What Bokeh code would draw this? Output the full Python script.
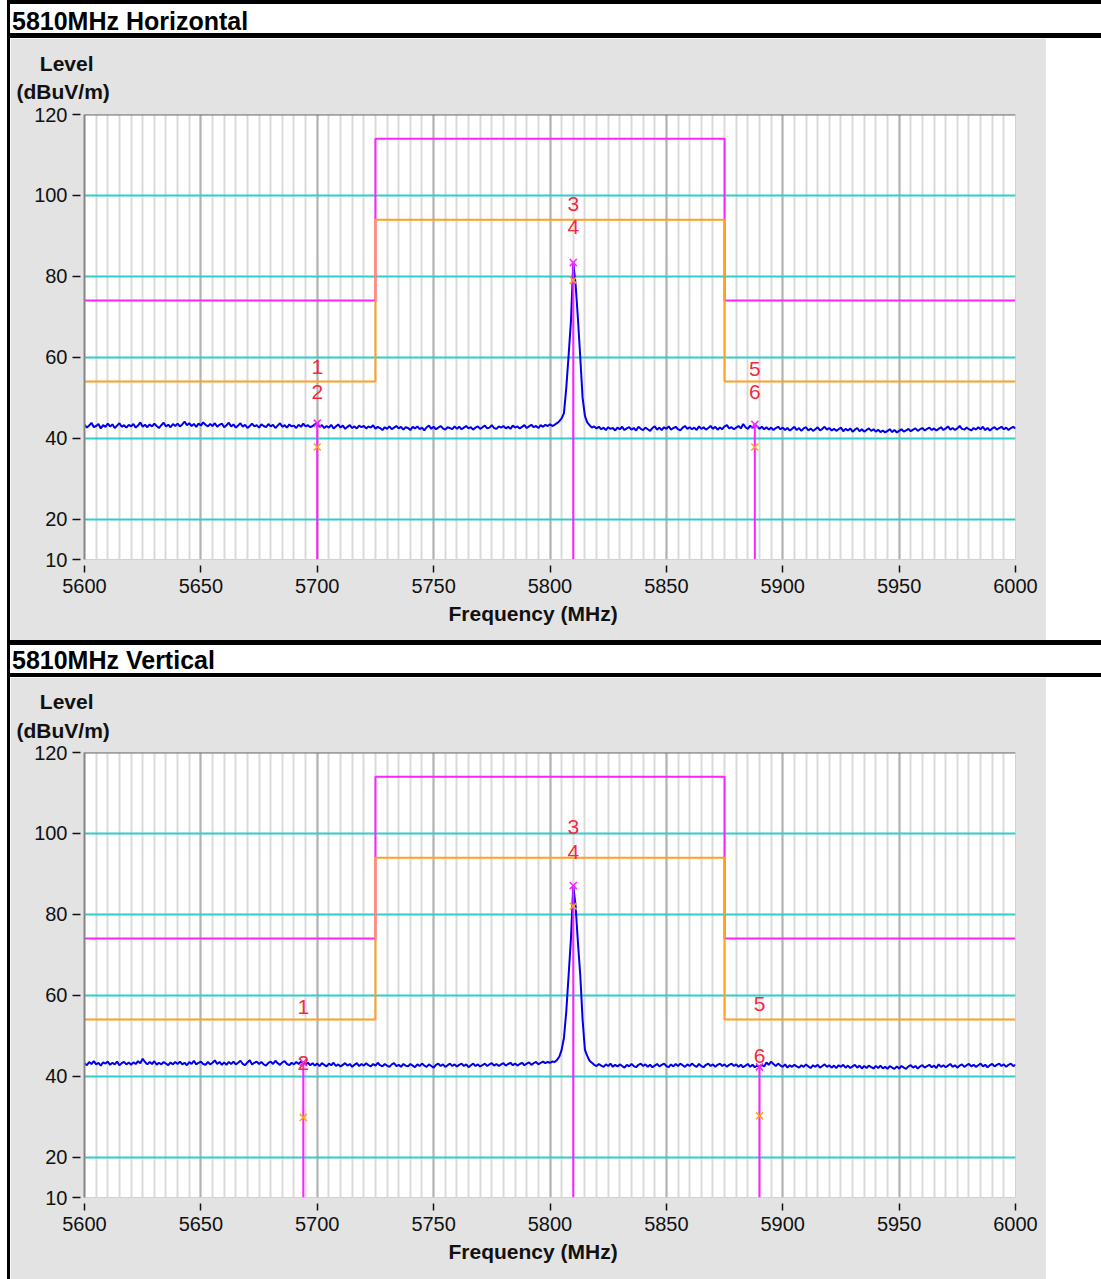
from bokeh.plotting import figure
from bokeh.models import (Range1d, FixedTicker, SingleIntervalTicker, Span, Div, Title)
from bokeh.layouts import row, column
from bokeh.embed import file_html
from bokeh.resources import INLINE
from bokeh.core.properties import value

# ---------------------------------------------------------------- data
FREQ_START = 5600   # MHz, first trace point
FREQ_STEP = 1       # MHz between trace points

H_LEVEL = [
    43.3, 42.6, 43.1, 43.8, 42.7, 43.0, 43.5, 42.4, 43.2, 42.8, 43.6, 42.9, 43.4, 42.5, 43.1, 43.7, 42.8, 43.2, 42.6, 43.3,
    42.9, 43.5, 42.6, 43.1, 43.9, 42.8, 43.3, 42.7, 43.4, 42.9, 43.6, 43.0, 42.5, 43.2, 43.8, 42.9, 43.3, 42.7, 43.5, 43.0,
    43.6, 42.9, 43.4, 44.1, 43.2, 43.7, 43.0, 43.5, 42.8, 43.6, 43.1, 43.9, 43.3, 42.9, 43.5, 43.0, 43.7, 42.8, 43.3, 43.6,
    42.7, 43.2, 43.8, 42.9, 43.4, 42.6, 43.1, 43.7, 42.8, 43.3, 42.5, 43.0, 43.6, 42.9, 43.2, 42.6, 43.4, 43.0, 42.7, 43.5,
    42.9, 43.3, 42.5, 43.1, 43.7, 42.8, 43.2, 42.6, 43.4, 42.9, 43.1, 42.5, 43.3, 42.8, 43.6, 42.9, 43.2, 42.7, 43.0, 43.4,
    43.7, 42.8, 43.2, 42.5, 43.0, 42.6, 43.3, 42.4, 42.9, 43.4, 42.6, 43.1, 42.3, 42.8, 43.2, 42.5, 42.9, 42.4, 43.1, 42.7,
    43.0, 42.4, 42.9, 42.6, 43.2, 42.3, 42.8, 42.5, 42.0, 42.7, 42.3, 42.9, 42.2, 42.6, 43.0, 42.4, 42.8, 42.1, 42.7, 42.5,
    42.0, 42.8, 42.4, 42.9, 42.2, 42.6, 41.9, 42.7, 43.1, 42.3, 42.8, 42.2, 42.6, 43.0, 42.4, 42.1, 42.7, 42.5, 42.2, 42.9,
    42.3, 42.8, 42.2, 42.6, 43.0, 42.4, 42.7, 42.1, 42.6, 42.9, 42.3, 42.7, 43.1, 42.4, 42.6, 43.2, 42.5, 42.3, 42.9, 42.6,
    43.0, 42.4, 42.8, 42.3, 43.1, 42.6, 42.9, 42.4, 42.8, 43.2, 42.5, 42.9, 43.3, 42.7, 43.0, 42.5, 43.2, 42.8, 43.3, 43.0,
    43.4, 43.0, 43.3, 43.7, 44.2, 44.9, 46.2, 52.5, 60.5, 69.0, 83.4, 78.0, 69.5, 60.0, 50.0, 45.5, 43.9, 43.2, 42.6, 42.9,
    42.4, 42.8, 42.2, 42.6, 42.0, 42.7, 42.3, 42.5, 41.9, 42.6, 42.2, 42.8, 42.0, 42.4, 42.7, 42.1, 42.5, 41.9, 42.8, 42.3,
    42.0, 42.6, 42.2, 41.8, 42.5, 42.9, 42.1, 42.6, 42.0, 42.7, 42.3, 42.9, 42.1, 42.5, 42.8, 42.2, 41.9, 42.6, 43.0, 42.3,
    42.7, 42.2, 42.6, 42.0, 42.9, 42.3, 42.7, 42.1, 42.5, 43.0, 42.3, 42.8, 42.1, 42.6, 42.2, 42.9, 43.2, 42.4, 42.7, 42.2,
    42.6, 43.0, 42.4, 43.5, 42.7, 42.3, 43.1, 42.5, 43.4, 42.9, 42.3, 42.8, 42.2, 42.7, 42.1, 42.6, 42.0, 42.5, 42.8, 42.2,
    42.6, 42.0, 42.5, 41.9, 42.3, 42.8, 42.0, 42.5, 41.8, 42.4, 42.7, 41.9, 42.4, 41.8, 42.2, 42.7, 41.9, 42.3, 42.8, 42.1,
    42.5, 41.9, 42.3, 41.8, 42.2, 42.6, 41.7, 42.3, 41.9, 42.4, 41.6, 42.1, 42.5, 41.7, 42.2, 41.6, 42.0, 42.4, 41.8, 42.2,
    41.6, 42.1, 41.5, 41.9, 41.4, 41.8, 42.2, 41.5, 42.0, 41.4, 41.8, 42.2, 41.6, 41.9, 42.3, 41.7, 42.1, 42.4, 41.8, 42.2,
    42.5, 41.9, 42.3, 42.6, 42.0, 42.4, 41.9, 42.3, 42.7, 42.0, 42.4, 42.9, 42.1, 42.5, 42.0, 42.4, 43.0, 42.3, 42.1, 42.6,
    42.2, 41.9, 42.5, 42.1, 42.7, 42.2, 42.8, 42.0, 42.5, 41.9, 42.4, 42.7, 42.1, 42.5, 42.8, 42.2, 42.6, 42.0, 42.5, 42.8,
    42.4,
]

V_LEVEL = [
    43.2, 42.7, 43.5, 43.0, 43.7, 42.9, 43.3, 42.6, 43.4, 43.1, 43.6, 42.8, 43.3, 42.9, 43.6, 42.7, 43.2, 43.5, 42.9, 43.4,
    42.8, 43.4, 43.0, 43.7, 43.2, 44.3, 43.5, 42.9, 43.5, 43.0, 43.7, 42.8, 43.3, 42.9, 43.5, 43.1, 42.7, 43.4, 42.9, 43.5,
    43.0, 43.6, 42.9, 43.3, 42.7, 43.5, 43.0, 43.8, 42.9, 43.3, 43.6, 43.0, 42.8, 43.5, 42.9, 43.3, 43.9, 43.0, 43.5, 42.8,
    43.4, 42.8, 43.5, 43.0, 43.6, 42.9, 43.3, 43.8, 43.0, 42.7, 43.4, 43.9, 42.9, 43.3, 43.6, 43.0, 43.5, 42.9, 42.6, 43.3,
    43.6, 43.0, 43.8, 43.2, 42.8, 43.4, 43.7, 43.0, 42.7, 43.3, 42.9, 43.5, 43.0, 43.6, 43.4, 42.9, 43.3, 42.7, 43.2, 42.6,
    43.1, 42.5, 43.2, 42.8, 42.4, 43.1, 42.7, 43.3, 42.5, 42.9, 42.4, 42.8, 43.2, 42.6, 43.0, 42.3, 42.8, 43.2, 42.5, 43.0,
    42.6, 43.2, 42.7, 42.4, 43.0, 42.6, 43.3, 42.7, 42.4, 43.0, 42.6, 42.3, 42.9, 43.2, 42.5, 42.8, 42.3, 43.0, 42.6, 42.4,
    43.0, 42.6, 42.2, 42.9, 42.5, 43.1, 42.6, 42.3, 42.9, 42.5, 42.1, 42.8, 43.1, 42.5, 42.9, 42.3, 42.7, 43.1, 42.5, 42.9,
    42.4, 42.8, 43.1, 42.5, 42.9, 42.2, 42.7, 43.1, 42.5, 42.9, 42.4, 42.7, 43.1, 42.5, 42.9, 43.2, 42.6, 43.0, 42.5, 42.9,
    43.2, 42.6, 43.0, 43.3, 42.7, 43.1, 42.6, 43.0, 43.3, 42.7, 43.1, 43.4, 42.8, 43.2, 43.5, 42.9, 43.3, 43.6, 43.2, 43.5,
    43.3, 43.6, 43.5, 44.0, 44.8, 46.5, 49.5, 56.0, 65.0, 74.0, 87.1, 82.0, 73.0, 65.0, 54.0, 46.5, 45.0, 43.8, 43.3, 42.8,
    42.5, 43.0, 42.6, 42.3, 42.9, 42.5, 43.1, 42.3, 42.8, 42.4, 42.9, 42.5, 42.1, 42.8, 42.4, 43.0, 42.5, 42.2, 42.8, 43.1,
    42.5, 42.9, 42.3, 42.8, 42.2, 42.6, 43.0, 42.4, 42.8, 43.1, 42.5, 42.2, 42.9, 42.4, 43.0, 42.5, 43.1, 42.7, 42.3, 42.9,
    42.5, 43.1, 42.6, 42.3, 43.0, 42.5, 42.2, 42.8, 43.1, 42.5, 42.9, 42.3, 42.8, 43.1, 42.5, 42.9, 42.3, 42.8, 43.1, 42.5,
    42.9, 42.3, 42.8, 42.2, 42.6, 43.0, 42.3, 42.8, 42.2, 42.6, 42.3, 42.8, 42.4, 43.4, 42.8, 43.6, 43.0, 42.5, 43.1, 42.6,
    42.3, 42.9, 42.1, 42.7, 42.3, 42.8, 42.4, 42.1, 42.7, 42.3, 42.9, 42.4, 42.0, 42.7, 42.3, 42.8, 42.1, 42.5, 42.9, 42.3,
    42.7, 42.1, 42.6, 42.0, 42.7, 42.3, 42.8, 42.1, 42.6, 42.0, 42.4, 42.8, 42.1, 42.6, 41.9, 42.5, 42.0, 42.6, 42.2, 41.9,
    42.5, 42.0, 42.6, 41.9, 42.3, 41.8, 42.5, 42.1, 41.8, 42.4, 41.9, 42.5, 42.1, 41.8, 42.4, 42.7, 42.1, 42.5, 41.9, 42.4,
    42.7, 42.1, 42.5, 42.8, 42.2, 42.6, 42.0, 42.9, 42.3, 42.7, 42.2, 42.6, 43.0, 42.3, 42.7, 42.1, 42.6, 42.9, 42.3, 42.7,
    43.0, 42.4, 42.8, 42.3, 42.7, 43.1, 42.4, 42.8, 42.2, 42.7, 43.0, 42.4, 42.8, 43.1, 42.5, 42.9, 42.3, 42.8, 43.1, 42.5,
    42.8,
]

# limit lines: band edges (MHz) and level of each segment (dBuV/m)
LIMIT_EDGES = [5600, 5725, 5875, 6000]
PEAK_LIMIT = [74, 114, 74]
AVG_LIMIT = [54, 94, 54]

# marker readings, horizontal polarisation
H_MARKER_FREQ = [5700, 5810, 5888]
H_MARKER_PEAK = [43.7, 83.4, 43.4]
H_MARKER_AVG = [37.8, 79.0, 37.8]
H_TAG_PEAK = ["1", "3", "5"]
H_TAG_AVG = ["2", "4", "6"]
H_TAG_PEAK_Y = [57.7, 97.8, 57.2]
H_TAG_AVG_Y = [51.3, 92.1, 51.3]

# marker readings, vertical polarisation
V_MARKER_FREQ = [5694, 5810, 5890]
V_MARKER_PEAK = [43.4, 87.1, 42.3]
V_MARKER_AVG = [29.8, 82.0, 30.2]
V_TAG_PEAK = ["1", "3", "5"]
V_TAG_AVG = ["2", "4", "6"]
V_TAG_PEAK_Y = [57.0, 101.5, 57.8]
V_TAG_AVG_Y = [43.3, 95.5, 44.9]

Y_TICKS = [10, 20, 40, 60, 80, 100, 120]
Y_REF_LINES = [20, 40, 60, 80, 100]

# ---------------------------------------------------------------- style
FONT = "Liberation Sans"
PANEL_GRAY = "#e3e3e3"
CYAN = "#33cccc"
MAGENTA = "#ff22ff"
ORANGE = "#ffa024"
TRACE_BLUE = "#0000ee"
TAG_RED = "#f52a3c"
INK = "#111111"
NBSP = "\u00a0"


def caption(text, **kw):
    return Title(text=text, text_font=FONT, text_font_size="21px",
                 text_font_style="bold", text_color=INK, **kw)


def spectrum_panel(levels, m_freq, m_peak, m_avg, tags_pk, tags_av, tags_pk_y, tags_av_y,
                   top, bottom):
    p = figure(width=1036, height=602, output_backend="svg", toolbar_location=None,
               x_range=Range1d(5600, 6000), y_range=Range1d(10, 120),
               title_location=None,
               min_border_left=74, min_border_right=31,
               min_border_top=top, min_border_bottom=bottom,
               background_fill_color="white", border_fill_color=PANEL_GRAY,
               outline_line_color="#d2d2d2", outline_line_width=1)

    # axes
    p.xaxis.ticker = SingleIntervalTicker(interval=50, num_minor_ticks=10)
    p.yaxis.ticker = FixedTicker(ticks=Y_TICKS)
    for ax in (p.xaxis[0], p.yaxis[0]):
        ax.major_label_text_font = FONT
        ax.major_label_text_font_size = "20px"
        ax.major_label_text_color = INK
        ax.minor_tick_line_color = None
        ax.major_tick_line_color = INK
    p.xaxis.major_tick_in = -6
    p.xaxis.major_tick_out = 13
    p.xaxis.major_tick_line_width = 1.5
    p.xaxis.major_label_standoff = 6
    p.xaxis.axis_line_color = None
    p.yaxis.major_tick_in = -4
    p.yaxis.major_tick_out = 12
    p.yaxis.major_tick_line_width = 1.5
    p.yaxis.major_label_standoff = 5
    p.yaxis.axis_line_color = "#858585"
    p.yaxis.axis_line_width = 2

    # axis captions: unit block above the level axis, frequency caption under the axis
    p.add_layout(caption(NBSP * 4 + "Level\n(dBuV/m)", align="left", offset=-68,
                         standoff=top - 55, vertical_align="middle", text_line_height=1.22),
                 "above")
    p.add_layout(caption("Frequency (MHz)", align="left", offset=364, standoff=8), "below")

    # grid: gray verticals every 5 MHz, cyan level lines every 20 dB
    p.xgrid.grid_line_color = "#b2b2b2"
    p.xgrid.grid_line_width = 2
    p.xgrid.minor_grid_line_color = "#dadada"
    p.xgrid.minor_grid_line_width = 2
    p.ygrid.ticker = FixedTicker(ticks=Y_REF_LINES)
    p.ygrid.grid_line_color = CYAN
    p.ygrid.grid_line_width = 2.2
    p.add_layout(Span(location=120, dimension="width", line_color="#6e6e6e", line_width=2))

    # limit lines
    p.step(x=LIMIT_EDGES, y=PEAK_LIMIT + PEAK_LIMIT[-1:], mode="after",
           line_color=MAGENTA, line_width=2)
    p.step(x=LIMIT_EDGES, y=AVG_LIMIT + AVG_LIMIT[-1:], mode="after",
           line_color=ORANGE, line_width=2)

    # measured trace
    freqs = [FREQ_START + i * FREQ_STEP for i in range(len(levels))]
    p.line(x=freqs, y=levels, line_color=TRACE_BLUE, line_width=2)

    # markers
    p.segment(x0=m_freq, y0=[10] * len(m_freq), x1=m_freq, y1=m_peak,
              line_color=MAGENTA, line_width=2)
    p.scatter(x=m_freq, y=m_avg, marker="x", size=10, line_color=ORANGE, line_width=1.5)
    p.scatter(x=m_freq, y=m_peak, marker="x", size=10, line_color=MAGENTA, line_width=1.5)
    p.text(x=m_freq, y=tags_pk_y, text=tags_pk, text_align="center", text_baseline="middle",
           text_color=TAG_RED, text_font=value(FONT), text_font_size="21px")
    p.text(x=m_freq, y=tags_av_y, text=tags_av, text_align="center", text_baseline="middle",
           text_color=TAG_RED, text_font=value(FONT), text_font_size="21px")
    return p


def block(w, h, color):
    return Div(text="", width=w, height=h, margin=0, styles={"background-color": color})


def heading(text, h, line_h):
    return Div(text=text, width=1091, height=h, margin=0,
               styles={"background-color": "white", "font-family": FONT,
                       "font-size": "25px", "font-weight": "bold", "color": "black",
                       "line-height": f"{line_h}px", "padding-left": "2px",
                       "white-space": "nowrap", "overflow": "visible"})


p_h = spectrum_panel(H_LEVEL, H_MARKER_FREQ, H_MARKER_PEAK, H_MARKER_AVG,
                     H_TAG_PEAK, H_TAG_AVG, H_TAG_PEAK_Y, H_TAG_AVG_Y, top=76, bottom=81)
p_v = spectrum_panel(V_LEVEL, V_MARKER_FREQ, V_MARKER_PEAK, V_MARKER_AVG,
                     V_TAG_PEAK, V_TAG_AVG, V_TAG_PEAK_Y, V_TAG_AVG_Y, top=75, bottom=82)

content = column(
    block(1091, 4, "black"),
    heading("5810MHz Horizontal", 29, 35),
    block(1091, 5, "black"),
    row(p_h, block(55, 602, "white"), spacing=0, margin=0),
    block(1091, 5, "black"),
    heading("5810MHz Vertical", 28, 31),
    block(1091, 4, "black"),
    row(p_v, block(55, 602, "white"), spacing=0, margin=0),
    spacing=0, margin=0,
)
page = row(block(7, 1279, "white"), block(3, 1279, "black"), content, spacing=0, margin=0)

open("out.html", "w").write(file_html(page, INLINE))
